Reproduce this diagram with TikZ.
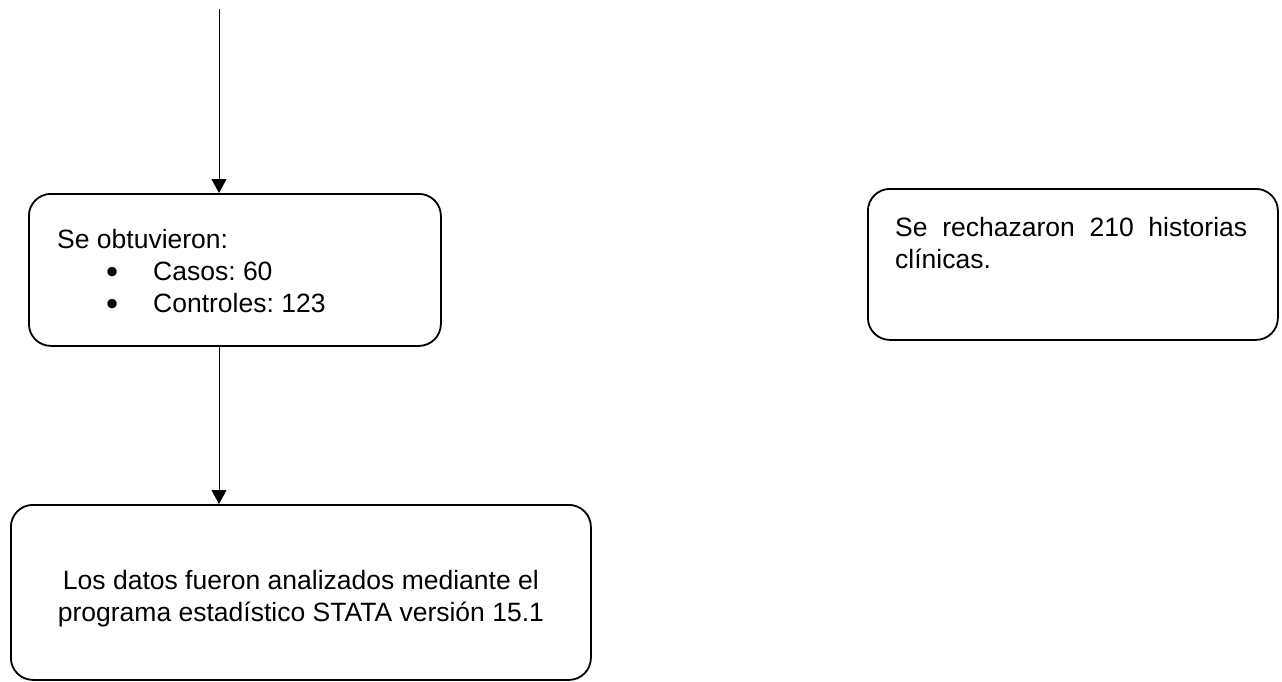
\documentclass[tikz,border=0pt]{standalone}
\usepackage{fontspec}
\setmainfont{Liberation Sans}
\usetikzlibrary{arrows.meta,calc}
\hyphenpenalty=10000
\exhyphenpenalty=10000
\tolerance=9999
\frenchspacing
\newcommand{\flowbullet}{\raisebox{-3pt}{\scalebox{1.3}{\textbullet}}}
\begin{document}
\begin{tikzpicture}[x=1pt,y=-1pt,line join=round,
    flowbox/.style={draw,line width=1.8pt,rounded corners=22pt,inner sep=0pt,anchor=north west},
    boxtext/.style={inner sep=0pt,font=\fontsize{26.5}{32}\selectfont},
    flowarrow/.style={-{Triangle[length=14pt,width=15pt]},line width=1pt}]
        \useasboundingbox (0,0) rectangle (1282,681);
        \node[flowbox,minimum width=412pt,minimum height=152pt] (obt) at (28,193) {};
        \node[flowbox,minimum width=410pt,minimum height=151pt] (rech) at (867,188) {};
        \node[flowbox,minimum width=580pt,minimum height=175pt] (dat) at (10,504) {};
        \node[boxtext,align=left,anchor=base west] (obttext) at ($(obt.north west)+(29,119)$)
          {Se obtuvieron:\\
           \hspace*{49pt}\makebox[47pt][l]{\flowbullet}Casos: 60\\
           \hspace*{49pt}\makebox[47pt][l]{\flowbullet}Controles: 123};
        \node[boxtext,text width=352pt,align=justify,anchor=base west] (rechtext) at ($(rech.north west)+(28,48)$)
          {Se rechazaron 210 historias clínicas.};
        \node[boxtext,align=center,anchor=base] (dattext) at ($(dat.north)+(0,117)$)
          {Los datos fueron analizados mediante el\\programa estadístico STATA versión 15.1};
        \coordinate (top) at (219,9);
        \draw[flowarrow] (top) -- (top |- obt.north);
        \draw[flowarrow] (top |- obt.south) -- (top |- dat.north);
      \end{tikzpicture}
\end{document}
